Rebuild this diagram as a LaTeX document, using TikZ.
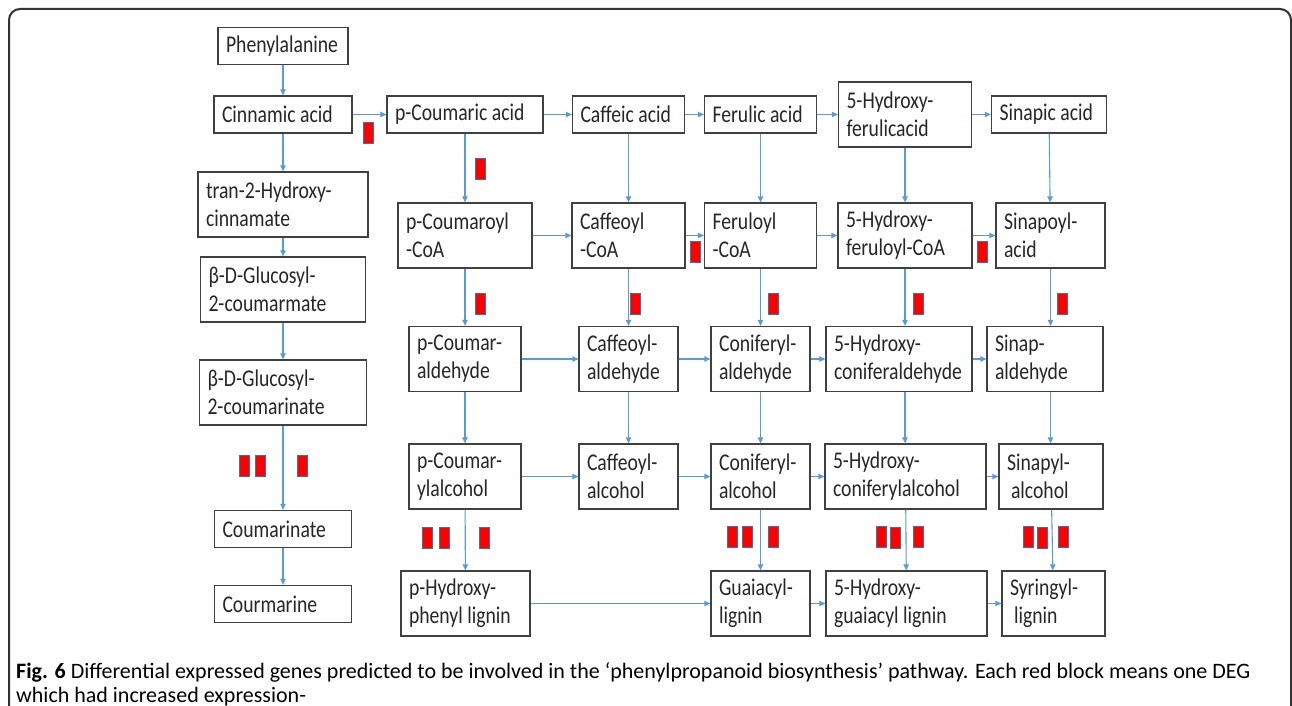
\documentclass[tikz,border=0pt]{standalone}
\usepackage{fontspec}
\usepackage{xcolor}
\usetikzlibrary{arrows.meta}

\newfontfamily\boxfont{Carlito}[FakeStretch=0.82]
\newfontfamily\capfont{Carlito}

\definecolor{boxgray}{HTML}{404040}
\definecolor{arrblue}{HTML}{5B9BD5}
\definecolor{degblue}{HTML}{41719C}
\definecolor{framegray}{HTML}{333333}
\definecolor{textgray}{HTML}{262626}

\begin{document}
\begin{tikzpicture}[
        x=1pt, y=-1pt,
        box/.style={rectangle, draw=boxgray, line width=1.3pt, align=flush left, inner xsep=8pt, inner ysep=0pt, text=textgray, font=\boxfont\fontsize{24}{28}\selectfont},
        one/.style={box, minimum height=37pt},
        two/.style={box, minimum height=65pt},
        arr/.style={-{Triangle[length=6pt,width=5.5pt]}, draw=arrblue, line width=1.1pt},
        deg/.style={rectangle, fill=red, draw=degblue, line width=0.8pt, minimum width=10pt, minimum height=21pt, inner sep=0pt},
    ]
    \useasboundingbox (0,0) rectangle (1292,706);

    % frame of the figure
    \draw[framegray, line width=2pt, rounded corners=11pt] (9,740) -- (9,9) -- (1291,9) -- (1291,740);

    % left column: coumarin branch
    \node[one, text width=114pt] (phe) at (283,46) {Phenylalanine};
    \node[one, text width=122pt] (cin) at (283,114.5) {Cinnamic acid};
    \node[two, text width=154pt] (tran) at (283,204.5) {tran-2-Hydroxy-\\cinnamate};
    \node[two, text width=149pt] (glca) at (283,289.5) {β-D-Glucosyl-\\2-coumarmate};
    \node[two, text width=151pt] (glcb) at (283,392.5) {β-D-Glucosyl-\\2-coumarinate};
    \node[one, text width=121pt] (cmt) at (283,529) {Coumarinate};
    \node[one, text width=121pt] (cmn) at (283,604) {Courmarine};

    % acids
    \node[one, text width=140pt] (pca) at (465,114.5) {p-Coumaric acid};
    \node[one, text width=96pt] (caf) at (628.5,114.5) {Caffeic acid};
    \node[one, text width=96pt] (fer) at (760.5,114.5) {Ferulic acid};
    \node[two, text width=117pt] (hfa) at (905,114.5) {5-Hydroxy-\\ferulicacid};
    \node[one, text width=99pt] (sin) at (1049,114.5) {Sinapic acid};

    % CoA esters
    \node[two, text width=118pt] (pcc) at (465,235.5) {p-Coumaroyl\\-CoA};
    \node[two, text width=97pt] (cfc) at (628.5,235.5) {Caffeoyl\\-CoA};
    \node[two, text width=96pt] (frc) at (760.5,235.5) {Feruloyl\\-CoA};
    \node[two, text width=118pt] (hfc) at (905,235.5) {5-Hydroxy-\\feruloyl-CoA};
    \node[two, text width=93pt] (spc) at (1050.5,235.5) {Sinapoyl-\\acid};

    % aldehydes
    \node[two, text width=96pt] (pcal) at (465,359) {p-Coumar-\\aldehyde};
    \node[two, text width=83pt] (cfal) at (628.5,359) {Caffeoyl-\\aldehyde};
    \node[two, text width=83pt] (cnal) at (760.5,359) {Coniferyl-\\aldehyde};
    \node[two, text width=130pt] (hcal) at (899,359) {5-Hydroxy-\\coniferaldehyde};
    \node[two, text width=100pt] (sal) at (1045,359) {Sinap-\\aldehyde};

    % alcohols
    \node[two, text width=96pt] (pcol) at (465,476.5) {p-Coumar-\\ylalcohol};
    \node[two, text width=83pt] (cfol) at (628.5,476.5) {Caffeoyl-\\alcohol};
    \node[two, text width=83pt] (cnol) at (760.5,476.5) {Coniferyl-\\alcohol};
    \node[two, text width=145pt] (hcol) at (905.5,476.5) {5-Hydroxy-\\coniferylalcohol};
    \node[two, text width=88pt] (sol) at (1051,476.5) {Sinapyl-\\\hspace{4pt}alcohol};

    % lignins
    \node[two, text width=113pt] (phl) at (465.5,603.5) {p-Hydroxy-\\phenyl lignin};
    \node[two, text width=83pt] (gl) at (760.5,603.5) {Guaiacyl-\\lignin};
    \node[two, text width=145pt] (hgl) at (906.5,603.5) {5-Hydroxy-\\guaiacyl lignin};
    \node[two, text width=87pt] (sl) at (1053.5,603.5) {Syringyl-\\\hspace{4pt}lignin};

    % vertical steps
    \draw[arr] (phe) -- (cin);
    \draw[arr] (cin) -- (tran);
    \draw[arr] (tran) -- (glca);
    \draw[arr] (glca) -- (glcb);
    \draw[arr] (glcb) -- (cmt);
    \draw[arr] (cmt) -- (cmn);
    \draw[arr] (pca) -- (pcc);
    \draw[arr] (pcc) -- (pcal);
    \draw[arr] (pcal) -- (pcol);
    \draw[arr] (pcol) -- (phl);
    \draw[arr] (caf) -- (cfc);
    \draw[arr] (cfc) -- (cfal);
    \draw[arr] (cfal) -- (cfol);
    \draw[arr] (fer) -- (frc);
    \draw[arr] (frc) -- (cnal);
    \draw[arr] (cnal) -- (cnol);
    \draw[arr] (cnol) -- (gl);
    \draw[arr] (hfa) -- (hfc);
    \draw[arr] (hfc.south) -- (hfc.south |- hcal.north);
    \draw[arr] (hcal.south -| hfc) -- (hfc |- hcol.north);
    \draw[arr] (hcol) -- (hgl);
    \draw[arr] (sin) -- (spc);
    \draw[arr] (spc.south) -- (spc.south |- sal.north);
    \draw[arr] (sal.south -| spc) -- (spc |- sol.north);
    \draw[arr] (sol) -- (sl);

    % horizontal steps
    \draw[arr] (cin) -- (pca);
    \draw[arr] (pca) -- (caf);
    \draw[arr] (caf) -- (fer);
    \draw[arr] (fer) -- (hfa);
    \draw[arr] (hfa) -- (sin);
    \draw[arr] (pcc) -- (cfc);
    \draw[arr] (cfc) -- (frc);
    \draw[arr] (frc) -- (hfc);
    \draw[arr] (hfc) -- (spc);
    \draw[arr] (pcal) -- (cfal);
    \draw[arr] (cfal) -- (cnal);
    \draw[arr] (cnal) -- (hcal);
    \draw[arr] (hcal) -- (sal);
    \draw[arr] (pcol) -- (cfol);
    \draw[arr] (cfol) -- (cnol);
    \draw[arr] (cnol) -- (hcol);
    \draw[arr] (hcol) -- (sol);
    \draw[arr] (phl) -- (gl);
    \draw[arr] (gl) -- (hgl);
    \draw[arr] (hgl) -- (sl);

    % red blocks: one per DEG
    \node[deg] (dga) at (368.5,132.5) {};
    \node[deg] (dgb) at (480.5,168.5) {};
    \node[deg] (dgc) at (695.5,252) {};
    \node[deg] (dgd) at (982.5,252) {};
    \node[deg] (dge) at (480,303.5) {};
    \node[deg] (dgf) at (635,303.5) {};
    \node[deg] (dgg) at (773,303.5) {};
    \node[deg] (dgh) at (918,303.5) {};
    \node[deg] (dgi) at (1062,303.5) {};
    \node[deg] (dgj) at (244.5,466) {};
    \node[deg] (dgk) at (260,466) {};
    \node[deg] (dgl) at (302,466) {};
    \node[deg] (dgm) at (427,537.5) {};
    \node[deg] (dgn) at (444,537.5) {};
    \node[deg] (dgo) at (484,537.5) {};
    \node[deg] (dgp) at (732,536.5) {};
    \node[deg] (dgq) at (747,536.5) {};
    \node[deg] (dgr) at (773,536.5) {};
    \node[deg] (dgs) at (881.5,536.5) {};
    \node[deg] (dgt) at (895,537.5) {};
    \node[deg] (dgu) at (918.5,536.5) {};
    \node[deg] (dgv) at (1028,536.5) {};
    \node[deg] (dgw) at (1042,537.5) {};
    \node[deg] (dgx) at (1063,536.5) {};

    % caption
    \node[anchor=north west, align=left, inner sep=0pt, font=\capfont\fontsize{22}{24}\selectfont] (cap) at (16,662)
        {\textbf{Fig. 6} Differential expressed genes predicted to be involved in the ‘phenylpropanoid biosynthesis’ pathway. Each red block means one DEG\\which had increased expression-};

\end{tikzpicture}
\end{document}
